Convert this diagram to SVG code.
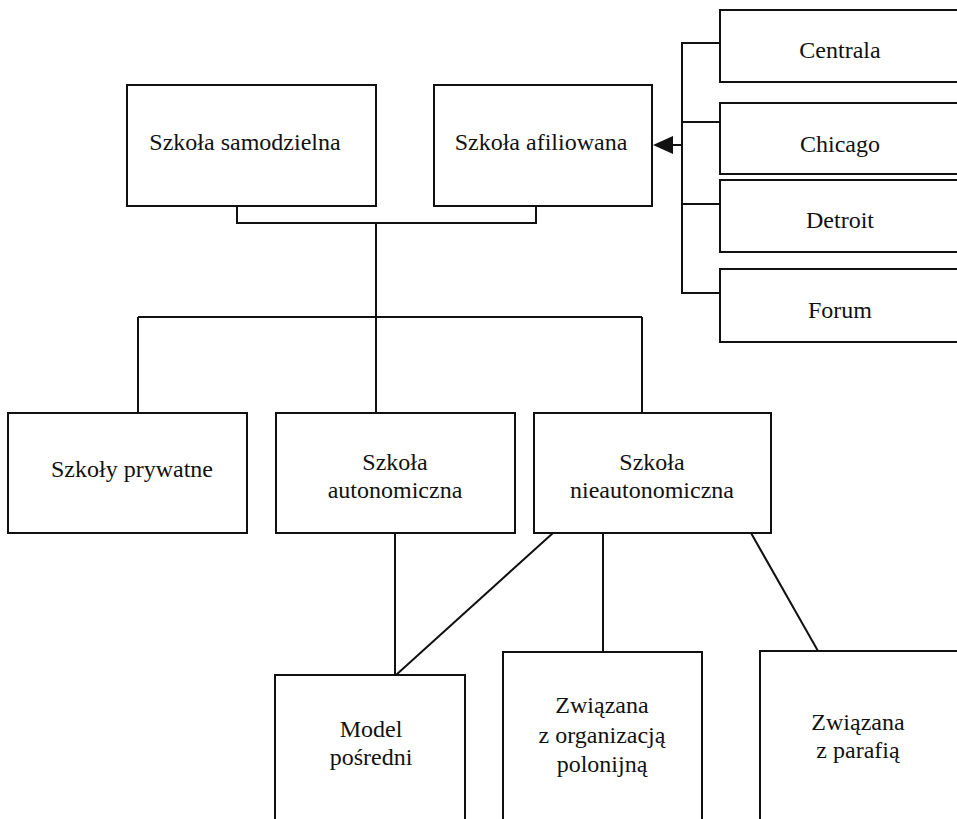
<svg xmlns="http://www.w3.org/2000/svg" width="957" height="819" viewBox="0 0 957 819">
<style>
.box{fill:#fff;stroke:#111;stroke-width:2}
.ln{fill:none;stroke:#111;stroke-width:2}
text{font-family:'Liberation Serif','Tinos','DejaVu Serif',serif;font-size:24px;fill:#111;text-anchor:middle}
</style>
<rect width="957" height="819" fill="#fff"/>
<g id="connectors">
<polyline class="ln" points="237,206 237,223 536,223 536,206"/>
<line class="ln" x1="376" y1="223" x2="376" y2="317"/>
<line class="ln" x1="138" y1="317" x2="642" y2="317"/>
<line class="ln" x1="138" y1="317" x2="138" y2="413"/>
<line class="ln" x1="376" y1="317" x2="376" y2="413"/>
<line class="ln" x1="642" y1="317" x2="642" y2="413"/>
<line class="ln" x1="395" y1="533" x2="395" y2="675"/>
<line class="ln" x1="553" y1="533" x2="396" y2="675"/>
<line class="ln" x1="603" y1="533" x2="603" y2="652"/>
<line class="ln" x1="751" y1="533" x2="818" y2="651"/>
<polyline class="ln" points="720,43 682,43 682,293 720,293"/>
<line class="ln" x1="682" y1="122" x2="720" y2="122"/>
<line class="ln" x1="682" y1="204" x2="720" y2="204"/>
<line class="ln" x1="672" y1="145" x2="682" y2="145"/>
<polygon points="653,145 673,136 673,154" fill="#111"/>
</g>
<g id="samodzielna"><rect class="box" x="127" y="85" width="249" height="121"/><text x="245" y="150">Szkoła samodzielna</text></g>
<g id="afiliowana"><rect class="box" x="434" y="85" width="218" height="121"/><text x="541" y="150">Szkoła afiliowana</text></g>
<g id="centrala"><rect class="box" x="720" y="10" width="260" height="72"/><text x="840" y="58">Centrala</text></g>
<g id="chicago"><rect class="box" x="720" y="103" width="260" height="71"/><text x="840" y="152">Chicago</text></g>
<g id="detroit"><rect class="box" x="720" y="180" width="260" height="72"/><text x="840" y="228">Detroit</text></g>
<g id="forum"><rect class="box" x="720" y="269" width="260" height="73"/><text x="840" y="318">Forum</text></g>
<g id="prywatne"><rect class="box" x="8" y="413" width="239" height="120"/><text x="132" y="477">Szkoły prywatne</text></g>
<g id="autonomiczna"><rect class="box" x="276" y="413" width="239" height="120"/><text x="395" y="470">Szkoła</text><text x="395" y="498">autonomiczna</text></g>
<g id="nieautonomiczna"><rect class="box" x="534" y="413" width="237" height="120"/><text x="652" y="470">Szkoła</text><text x="652" y="498">nieautonomiczna</text></g>
<g id="model"><rect class="box" x="275" y="675" width="190" height="160"/><text x="371" y="737">Model</text><text x="371" y="765">pośredni</text></g>
<g id="organizacja"><rect class="box" x="503" y="652" width="199" height="180"/><text x="602" y="713">Związana</text><text x="602" y="743">z organizacją</text><text x="602" y="772">polonijną</text></g>
<g id="parafia"><rect class="box" x="760" y="651" width="220" height="180"/><text x="858" y="730">Związana</text><text x="858" y="758">z parafią</text></g>
</svg>
